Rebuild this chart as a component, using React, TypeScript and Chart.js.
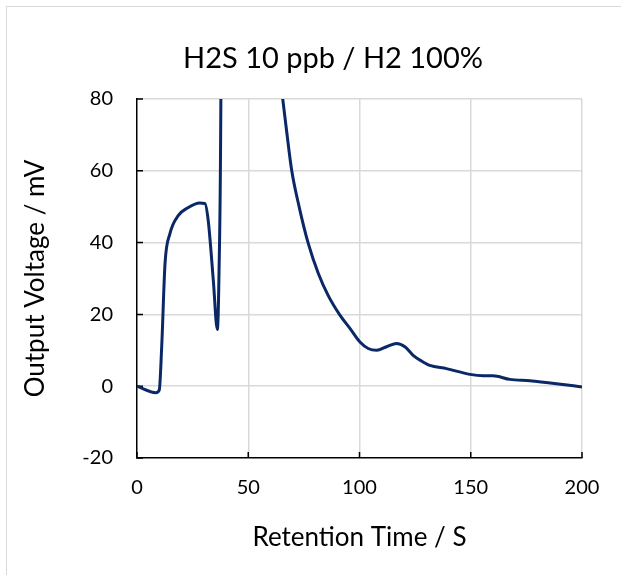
import React, { useEffect, useRef } from "react";
import { Chart, registerables } from "chart.js";

Chart.register(...registerables);

const chartTitle = "H2S 10 ppb / H2 100%";
const xAxisTitle = "Retention Time / S";
const yAxisTitle = "Output Voltage / mV";

const xTicks = [0, 50, 100, 150, 200];
const yTicks = [-20, 0, 20, 40, 60, 80];

const retentionTime = [
  0, 8.5, 10, 11.1, 12.6, 14.8, 18.6, 22.3, 28.3, 30.5, 32, 34.3, 36.1, 36.8, 37.7,
  38.6, 41, 45, 50, 55, 60, 65.5, 67.2, 69.5, 72.9, 77, 81.5, 85.9, 91.2, 95.7,
  100.2, 103.9, 107.7, 112.2, 116.7, 120.4, 124.1, 127.9, 131.6, 139.1, 149.6,
  155.6, 160, 167.6, 176.5, 188.5, 200,
];
const outputVoltage = [
  0, -1.8, -1.1, 11, 34.2, 42.5, 47.6, 49.5, 51, 50.9, 46.2, 29.5, 15.8, 29.5, 80.6,
  250, 420, 360, 240, 160, 110, 80, 71.3, 60.2, 49.9, 39.7, 31.4, 25.3, 19.8, 16.1,
  12.3, 10.5, 10.0, 11, 11.9, 11, 8.6, 7.0, 5.8, 4.9, 3.3, 2.9, 2.9, 1.9, 1.5, 0.7,
  -0.2,
];

const FONT = "Lato, 'Open Sans', sans-serif";

export default function App() {
  const canvasRef = useRef<HTMLCanvasElement | null>(null);

  useEffect(() => {
    if (!canvasRef.current) return;

    const titlePlugin = {
      id: "customTitle",
      afterDraw(chart: any) {
        const ctx = chart.ctx;
        ctx.save();
        ctx.font = `29px ${FONT}`;
        ctx.fillStyle = "#000";
        ctx.textAlign = "center";
        ctx.textBaseline = "alphabetic";
        ctx.fillText(chartTitle, 333, 68);
        ctx.restore();
      },
    };

    const insideTicks = {
      id: "insideTicks",
      beforeDatasetsDraw(chart: any) {
        const ctx = chart.ctx;
        const xs = chart.scales.x;
        const ys = chart.scales.y;
        const { left, bottom } = chart.chartArea;
        ctx.save();
        ctx.strokeStyle = "#000";
        ctx.lineWidth = 1.5;
        ctx.beginPath();
        yTicks.forEach((v) => {
          const py = ys.getPixelForValue(v);
          ctx.moveTo(left, py);
          ctx.lineTo(left + 6, py);
        });
        xTicks.forEach((v) => {
          const px = xs.getPixelForValue(v);
          ctx.moveTo(px, bottom);
          ctx.lineTo(px, bottom - 6);
        });
        ctx.stroke();
        ctx.restore();
      },
    };

    const chart = new Chart(canvasRef.current, {
      type: "line",
      data: {
        datasets: [
          {
            data: retentionTime.map((t, i) => ({ x: t, y: outputVoltage[i] })),
            borderColor: "#0a2766",
            borderWidth: 3,
            pointRadius: 0,
            fill: false,
            cubicInterpolationMode: "monotone",
          },
        ],
      },
      options: {
        responsive: false,
        animation: false,
        layout: { padding: { left: 0, top: 99, right: 39, bottom: 0 } },
        plugins: {
          legend: { display: false },
          tooltip: { enabled: false },
          title: { display: false },
        },
        scales: {
          x: {
            type: "linear",
            min: 0,
            max: 200,
            afterFit: (s: any) => {
              s.height = 117;
            },
            afterBuildTicks: (s: any) => {
              s.ticks = xTicks.map((v) => ({ value: v }));
            },
            ticks: {
              color: "#000",
              font: { family: FONT, size: 20 },
              padding: 18,
              maxRotation: 0,
            },
            grid: {
              color: (c: any) => (c.tick && c.tick.value === 0 ? "rgba(0,0,0,0)" : "#d9d9d9"),
              lineWidth: 1.5,
              drawTicks: false,
            },
            border: { color: "#000", width: 1.5 },
            title: {
              display: true,
              text: xAxisTitle,
              color: "#000",
              font: { family: FONT, size: 26 },
              padding: { top: 0, bottom: 22 },
            },
          },
          y: {
            type: "linear",
            min: -20,
            max: 80,
            afterFit: (s: any) => {
              s.width = 137;
            },
            afterBuildTicks: (s: any) => {
              s.ticks = yTicks.map((v) => ({ value: v }));
            },
            ticks: {
              color: "#000",
              font: { family: FONT, size: 20 },
              padding: 24,
            },
            grid: {
              color: (c: any) => (c.tick && c.tick.value === -20 ? "rgba(0,0,0,0)" : "#d9d9d9"),
              lineWidth: 1.5,
              drawTicks: false,
            },
            border: { color: "#000", width: 1.5 },
            title: {
              display: true,
              text: yAxisTitle,
              color: "#000",
              font: { family: FONT, size: 26 },
              padding: { top: 20, bottom: 0 },
            },
          },
        },
      },
      plugins: [insideTicks, titlePlugin],
    });

    return () => chart.destroy();
  }, []);

  return (
    <div
      style={{
        position: "fixed",
        left: 0,
        top: 0,
        width: 621,
        height: 575,
        overflow: "hidden",
        background: "#fff",
      }}
    >
      <div
        style={{
          position: "absolute",
          left: 6,
          top: 6,
          width: 800,
          height: 800,
          border: "1px solid #d9d9d9",
        }}
      />
      <canvas
        ref={canvasRef}
        width={621}
        height={575}
        style={{ position: "absolute", left: 0, top: 0, width: 621, height: 575 }}
      />
    </div>
  );
}
